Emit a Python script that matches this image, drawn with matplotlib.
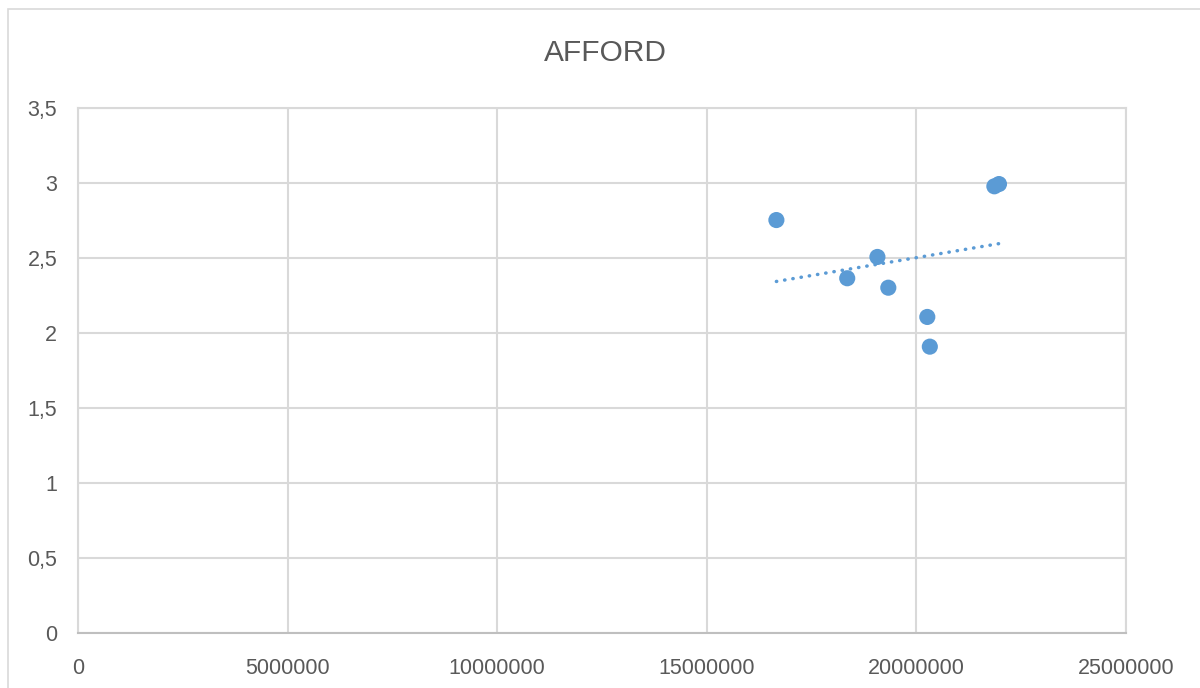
import numpy as np
import matplotlib
matplotlib.use('Agg')
import matplotlib.pyplot as plt
from matplotlib.ticker import FuncFormatter, MultipleLocator
from matplotlib.patches import Rectangle

# data
x_vals = [16660000, 18350000, 19070000, 19330000, 20260000, 20320000, 21860000, 21970000]
y_vals = [2.753, 2.365, 2.507, 2.302, 2.107, 1.909, 2.978, 2.993]
title = 'AFFORD'

plt.rcParams['font.family'] = ['Liberation Sans', 'DejaVu Sans']
txt = '#595959'
grid = '#d9d9d9'
blue = '#5b9bd5'

fig = plt.figure(figsize=(12, 6.88), dpi=100)
# chart border
fig.patches.append(Rectangle((8 / 1200, -0.1), 1.2, 1 - 9 / 688 + 0.1, transform=fig.transFigure,
                             fill=False, edgecolor=grid, linewidth=1.2))

ax = fig.add_axes([78 / 1200, 55 / 688, 1048 / 1200, 525 / 688])
ax.set_xlim(0, 25000000)
ax.set_ylim(0, 3.5)
ax.xaxis.set_major_locator(MultipleLocator(5000000))
ax.yaxis.set_major_locator(MultipleLocator(0.5))
ax.xaxis.set_major_formatter(FuncFormatter(lambda v, p: '%d' % v))
ax.yaxis.set_major_formatter(FuncFormatter(lambda v, p: ('%g' % v).replace('.', ',')))
ax.grid(True, color=grid, linewidth=1.5)
ax.set_axisbelow(True)
for s in ax.spines.values():
    s.set_color(grid)
    s.set_linewidth(1.5)
ax.spines['bottom'].set_color('#bfbfbf')
ax.tick_params(length=0, labelsize=15.5, colors=txt)
ax.tick_params(axis='y', pad=15)
ax.tick_params(axis='x', pad=18)

# linear trendline
k, b = np.polyfit(x_vals, y_vals, 1)
tx = np.array([min(x_vals), max(x_vals)])
ax.plot(tx, k * tx + b, color=blue, linewidth=2.5, linestyle=(0, (0.1, 2.3)),
        dash_capstyle='round', zorder=2)

ax.scatter(x_vals, y_vals, s=135, color=blue, edgecolors='none', zorder=3)

fig.text(605 / 1200, 1 - 53 / 688, title, ha='center', va='center', fontsize=21.5, color=txt)

fig.savefig('out.png', dpi=100)
